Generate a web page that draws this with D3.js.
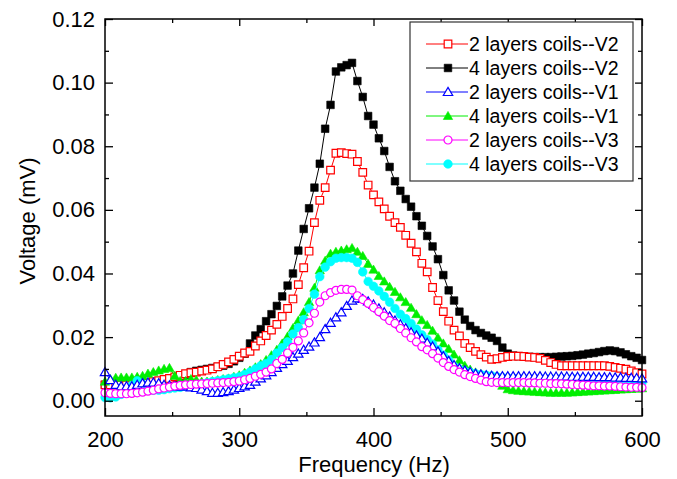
<!DOCTYPE html>
<html><head><meta charset="utf-8">
<script src="https://cdn.jsdelivr.net/npm/d3@7"></script>
<style>body{margin:0;background:#fff} svg{display:block} text{font-family:"Liberation Sans",Arial,Helvetica,sans-serif}</style>
</head><body>
<svg id="c" width="677" height="479"></svg>
<script>
const freq=[200,204,208,212,216,220,224,228,232,236,240,244,248,252,256,260,264,268,272,276,280,284,288,292,296,300,304,308,312,316,320,324,328,332,336,340,344,348,352,356,360,364,368,372,376,380,384,388,392,396,400,404,408,412,416,420,424,428,432,436,440,444,448,452,456,460,464,468,472,476,480,484,488,492,496,500,504,508,512,516,520,524,528,532,536,540,544,548,552,556,560,564,568,572,576,580,584,588,592,596,600];

const v2_2layers=[.005,.005,.005,.005,.005,.005,.005,.0052,.0055,.006,
.0063,.0067,.007,.0075,.008,.0085,.0088,.009,.0093,.0096,
.010,.0107,.0114,.0122,.013,.014,.015,.0155,.0172,.0188,
.0205,.0222,.024,.0265,.029,.032,.0365,.0418,.047,.056,
.063,.067,.0725,.0778,.078,.0777,.0775,.0752,.0718,.0678,
.0647,.0625,.0603,.058,.056,.0545,.052,.0495,.0468,.0432,
.0405,.0356,.0315,.028,.025,.0222,.0204,.018,.0167,.0155,
.0145,.0137,.013,.0132,.0136,.0139,.014,.014,.0139,.0137,
.0136,.0133,.0127,.012,.0114,.011,.011,.011,.011,.011,
.011,.011,.011,.011,.0108,.0105,.0102,.0099,.0094,.0088,
.0084];

const v2_4layers=[.005,.005,.005,.005,.005,.005,.0052,.0054,.0055,.0058,
.006,.0062,.0065,.007,.0075,.0082,.009,.0094,.0097,.010,
.0103,.0106,.011,.0116,.0124,.0135,.0148,.018,.0205,.0225,
.025,.0272,.0298,.0328,.0362,.040,.0472,.054,.0605,.067,
.0745,.0855,.093,.1035,.1048,.1055,.1062,.1005,.0955,.0895,
.0868,.0825,.0785,.0735,.069,.066,.0634,.061,.058,.055,
.0518,.0485,.0445,.0395,.0347,.0315,.028,.0255,.0235,.0222,
.0213,.0205,.0198,.0188,.0167,.0148,.0142,.014,.0139,.0138,
.0137,.0137,.0137,.0137,.0138,.0139,.014,.0141,.0143,.0145,
.0148,.015,.0153,.0156,.0158,.0156,.0152,.0146,.014,.0135,
.0128];

const v1_2layers=[.009,.0065,.005,.0045,.0045,.0045,.005,.0055,.0057,.0057,
.0055,.005,.0048,.0045,.0045,.0045,.0042,.004,.0035,.003,
.0025,.0025,.0027,.003,.0035,.004,.0045,.005,.006,.007,
.008,.009,.0103,.0115,.0125,.0137,.0148,.016,.017,.0183,
.020,.0225,.0245,.0262,.0278,.0298,.0315,.0322,.032,.0312,
.0302,.029,.0278,.0265,.0252,.024,.0228,.0215,.0205,.0195,
.0182,.017,.0155,.014,.0125,.0112,.0102,.0095,.009,.0085,
.0082,.008,.0078,.0077,.0077,.0077,.0077,.0077,.0077,.0077,
.0077,.0077,.0076,.0076,.0076,.0076,.0076,.0075,.0075,.0075,
.0075,.0075,.0074,.0074,.0074,.0073,.0073,.0072,.0072,.0071,
.007];

const v1_4layers=[.006,.0068,.0072,.0073,.0073,.0073,.0075,.0078,.0085,.009,
.0095,.010,.0103,.0078,.0062,.0062,.0068,.0065,.006,.006,
.0062,.0065,.0068,.007,.0075,.008,.0088,.0095,.0105,.0115,
.0128,.0143,.016,.018,.0202,.0228,.0252,.0278,.031,.0355,
.041,.044,.0462,.0468,.0472,.0476,.048,.0468,.0455,.043,
.0412,.0392,.0375,.0358,.0342,.0325,.031,.0292,.0272,.0253,
.0238,.022,.0198,.018,.0163,.0145,.0127,.011,.0098,.0089,
.0084,.008,.0075,.0063,.0047,.0036,.0033,.0031,.003,.0029,
.0028,.0027,.0026,.0025,.0025,.0025,.0025,.0026,.0027,.0028,
.0029,.003,.0031,.0032,.0033,.0034,.0035,.0036,.0037,.0038,
.0039];

const v3_2layers=[.0025,.0023,.0022,.0022,.0022,.0023,.0025,.0027,.003,.0033,
.0037,.004,.0043,.0046,.0048,.005,.0051,.0052,.0053,.0054,
.0055,.0056,.0057,.0058,.006,.0062,.0066,.007,.0077,.0083,
.009,.010,.0117,.013,.015,.0168,.0188,.0213,.0245,.0275,
.031,.033,.034,.0347,.035,.035,.0348,.033,.0318,.0306,
.0293,.028,.0266,.0252,.0243,.0227,.0213,.0198,.0185,.017,
.016,.0148,.0134,.012,.0108,.0098,.009,.0082,.0076,.007,
.0065,.006,.0058,.0057,.0057,.0057,.0057,.0057,.0057,.0056,
.0056,.0055,.0055,.0054,.0054,.0053,.0052,.0051,.005,.0049,
.0048,.0047,.0047,.0046,.0046,.0045,.0044,.0043,.0042,.0042,
.0041];

const v3_4layers=[.001,.0009,.0012,.002,.0032,.0048,.0063,.0052,.0038,.0033,
.0033,.0035,.0038,.004,.0042,.0045,.0048,.005,.0053,.0056,
.006,.0063,.0066,.0069,.0072,.0075,.0082,.009,.010,.011,
.0117,.013,.015,.0167,.0185,.021,.023,.0255,.029,.0335,
.039,.042,.0437,.0448,.045,.045,.0448,.0435,.0405,.0375,
.036,.0345,.0328,.031,.029,.0272,.0258,.0243,.0225,.0207,
.0192,.0178,.016,.0143,.0128,.0108,.0099,.0093,.0089,.0085,
.0082,.008,.0078,.0075,.0073,.0072,.0071,.007,.007,.007,
.007,.007,.007,.007,.007,.007,.007,.007,.007,.007,
.007,.0069,.0068,.0067,.0066,.0065,.0064,.0063,.0061,.0059,
.0057];

const legendNames=["2 layers coils--V2","4 layers coils--V2","2 layers coils--V1","4 layers coils--V1","2 layers coils--V3","4 layers coils--V3"];
const xMajor=[200,300,400,500,600];
const xMinor=[250,350,450,550];
const yMajor=[0,0.02,0.04,0.06,0.08,0.10,0.12];
const yMinor=[0.01,0.03,0.05,0.07,0.09,0.11];
const xTitle="Frequency (Hz)";
const yTitle="Voltage (mV)";

const series=[
 {name:legendNames[0],vals:v2_2layers,color:"#ff0000",shape:"square",filled:false},
 {name:legendNames[1],vals:v2_4layers,color:"#000000",shape:"square",filled:true},
 {name:legendNames[2],vals:v1_2layers,color:"#0000ff",shape:"triangle",filled:false},
 {name:legendNames[3],vals:v1_4layers,color:"#00ee00",shape:"triangle",filled:true},
 {name:legendNames[4],vals:v3_2layers,color:"#ff00ff",shape:"circle",filled:false},
 {name:legendNames[5],vals:v3_4layers,color:"#00ffff",shape:"circle",filled:true}
];
const drawOrder=[1,0,3,5,2,4];

const svg=d3.select("#c");
const L=105,R=642,T=19,B=416;
const x=d3.scaleLinear().domain([200,600]).range([L,R]);
const y=d3.scaleLinear().domain([-0.0048,0.12]).range([B,T]);

function markerPath(s){
  if(s.shape==="square") return "M-3.8,-3.8H3.8V3.8H-3.8Z";
  if(s.shape==="triangle") return "M0,-4.6L4.7,3.5L-4.7,3.5Z";
  const r=s.filled?4.3:4.0;
  return d3.symbol(d3.symbolCircle, Math.PI*r*r)();
}
function drawMarker(g,s,cx,cy){
  g.append("path").attr("d",markerPath(s))
   .attr("transform",`translate(${cx},${cy})`)
   .attr("fill",s.filled?s.color:"#fff")
   .attr("stroke",s.color).attr("stroke-width",s.filled?0.6:1.2);
}

const plot=svg.append("g");
const line=d3.line().x((d,i)=>x(freq[i])).y(d=>y(d));
drawOrder.forEach(k=>{
  const s=series[k];
  const g=plot.append("g");
  g.append("path").datum(s.vals).attr("d",line).attr("fill","none").attr("stroke",s.color).attr("stroke-width",1);
  s.vals.forEach((v,i)=>drawMarker(g,s,x(freq[i]),y(v)));
});

function styleAxis(g){g.select(".domain").remove();g.selectAll("line").attr("stroke","#000").attr("stroke-width",1.3);g.selectAll("text").attr("font-size",22).attr("fill","#000").attr("font-family",'"Liberation Sans",Arial,sans-serif');}
svg.append("g").attr("transform",`translate(0,${B})`).call(d3.axisBottom(x).tickValues(xMajor).tickSizeInner(-8).tickSizeOuter(0).tickPadding(15).tickFormat(d3.format("d"))).call(styleAxis);
svg.append("g").attr("transform",`translate(0,${B})`).call(d3.axisBottom(x).tickValues(xMinor).tickSizeInner(-4).tickSizeOuter(0).tickFormat("")).call(styleAxis);
svg.append("g").attr("transform",`translate(0,${T})`).call(d3.axisTop(x).tickValues(xMajor).tickSizeInner(-7).tickSizeOuter(0).tickFormat("")).call(styleAxis);
svg.append("g").attr("transform",`translate(0,${T})`).call(d3.axisTop(x).tickValues(xMinor).tickSizeInner(-4).tickSizeOuter(0).tickFormat("")).call(styleAxis);
svg.append("g").attr("transform",`translate(${L},0)`).call(d3.axisLeft(y).tickValues(yMajor).tickSizeInner(-8).tickSizeOuter(0).tickPadding(10).tickFormat(d3.format(".2f"))).call(styleAxis);
svg.append("g").attr("transform",`translate(${L},0)`).call(d3.axisLeft(y).tickValues(yMinor).tickSizeInner(-4).tickSizeOuter(0).tickFormat("")).call(styleAxis);
svg.append("g").attr("transform",`translate(${R},0)`).call(d3.axisRight(y).tickValues(yMajor).tickSizeInner(-7).tickSizeOuter(0).tickFormat("")).call(styleAxis);
svg.append("g").attr("transform",`translate(${R},0)`).call(d3.axisRight(y).tickValues(yMinor).tickSizeInner(-4).tickSizeOuter(0).tickFormat("")).call(styleAxis);
svg.append("rect").attr("x",L).attr("y",T).attr("width",R-L).attr("height",B-T).attr("fill","none").attr("stroke","#000").attr("stroke-width",1.5);

svg.append("text").attr("x",374).attr("y",472).attr("text-anchor","middle").attr("font-size",22).text(xTitle);
svg.append("text").attr("transform",`translate(35,221) rotate(-90)`).attr("text-anchor","middle").attr("font-size",22).text(yTitle);

const lg=svg.append("g");
lg.append("rect").attr("x",410).attr("y",22).attr("width",223).attr("height",159).attr("fill","#fff").attr("stroke","#333").attr("stroke-width",1.2);
series.forEach((s,i)=>{
  const yy=44+i*24;
  lg.append("line").attr("x1",426).attr("x2",468).attr("y1",yy).attr("y2",yy).attr("stroke",s.color).attr("stroke-width",1);
  drawMarker(lg,s,448,yy);
  lg.append("text").attr("x",469).attr("y",yy).attr("dy","0.35em").attr("font-size",19.5).text(s.name);
});
</script>
</body></html>
